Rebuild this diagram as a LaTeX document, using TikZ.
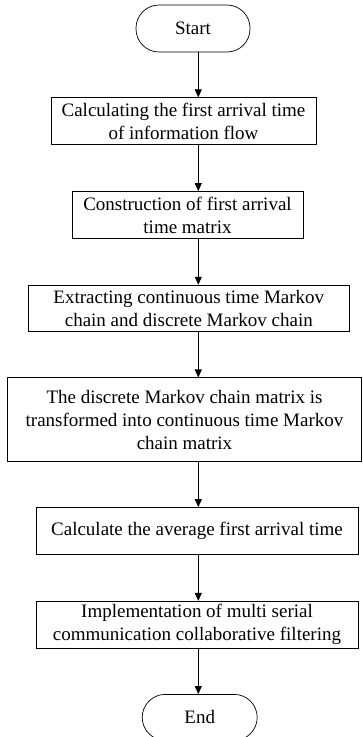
\documentclass[tikz,border=0pt]{standalone}
\usepackage{fontspec}
\setmainfont{Liberation Serif}
\usepackage{tikz}
\usetikzlibrary{positioning,arrows.meta}
\tikzset{
  termbox/.style={rectangle,rounded corners=23pt,draw=black,line width=0.7pt,align=center,minimum width=114pt,minimum height=46pt,inner sep=0pt,font=\fontsize{19}{23}\selectfont},
  procbox/.style={rectangle,draw=black,line width=0.7pt,align=center,minimum height=47pt,inner sep=2pt,font=\fontsize{19}{23}\selectfont},
  edge/.style={-{Triangle[length=8pt,width=7pt]},line width=0.7pt}
}
\begin{document}
\begin{tikzpicture}[x=1pt,y=1pt,node distance=46pt]
  \useasboundingbox (0,0) rectangle (362,-737);
  \coordinate (ax) at (198.3,0);
  \node[termbox,minimum height=47pt] (start) at (193,-28.5) {Start};
  \node[procbox,minimum width=265pt,below=45pt of start,xshift=-9.5pt] (calc) {Calculating the first arrival time\\of information flow};
  \node[procbox,minimum width=231pt,below=of calc,xshift=4pt] (cons) {Construction of first arrival\\time matrix};
  \node[procbox,minimum width=321pt,minimum height=46pt,below=of cons,xshift=1.3pt] (extr) {Extracting continuous time Markov\\chain and discrete Markov chain};
  \node[procbox,minimum width=354pt,minimum height=84pt,below=of extr,xshift=-4.3pt] (trans) {The discrete Markov chain matrix is\\transformed into continuous time Markov\\chain matrix};
  \node[procbox,minimum width=322pt,below=45pt of trans,xshift=12.5pt] (avg) {Calculate the average first arrival time};
  \node[procbox,minimum width=322pt,below=of avg] (impl) {Implementation of multi serial\\communication collaborative filtering};
  \node[termbox,minimum width=115pt,below=45.5pt of impl,xshift=2.7pt] (end) {End};
  \draw[edge] (start.south -| ax) -- (calc.north -| ax);
  \draw[edge] (calc.south -| ax) -- (cons.north -| ax);
  \draw[edge] (cons.south -| ax) -- (extr.north -| ax);
  \draw[edge] (extr.south -| ax) -- (trans.north -| ax);
  \draw[edge] (trans.south -| ax) -- (avg.north -| ax);
  \draw[edge] (avg.south -| ax) -- (impl.north -| ax);
  \draw[edge] (impl.south -| ax) -- (end.north -| ax);
\end{tikzpicture}
\end{document}
